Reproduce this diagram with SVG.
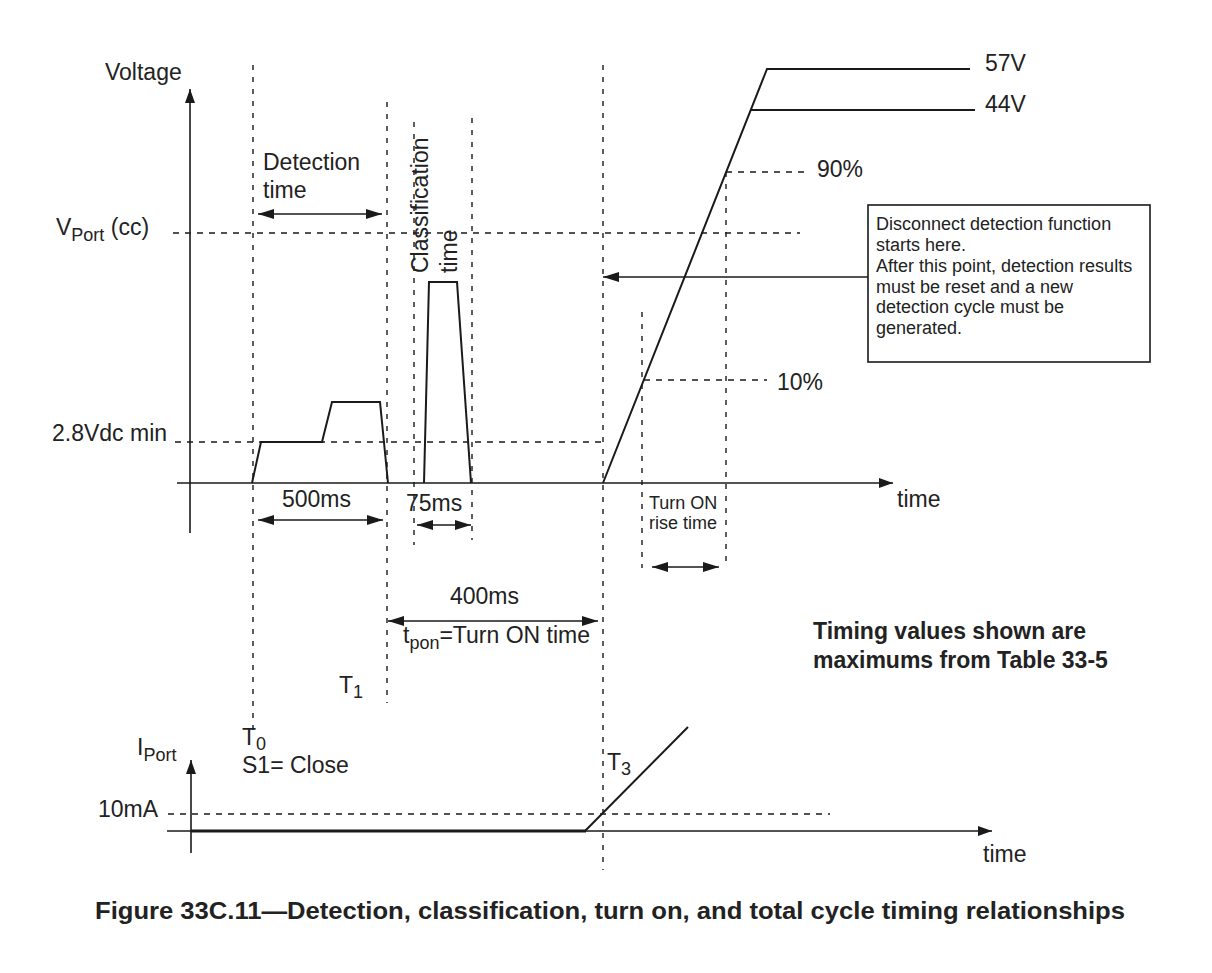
<svg xmlns="http://www.w3.org/2000/svg" width="1212" height="973" viewBox="0 0 1212 973">
<style>
text{font-family:"Liberation Sans",Arial,sans-serif;fill:#222;font-size:23px}
.sm{font-size:18px}
.sub{font-size:18px}
.b{font-weight:bold}
.ln{stroke:#1a1a1a;stroke-width:1.6;fill:none}
.wf{stroke:#1a1a1a;stroke-width:2;fill:none;stroke-linejoin:miter}
.dh{stroke:#1a1a1a;stroke-width:1.4;stroke-dasharray:6 6;fill:none}
.dv{stroke:#1a1a1a;stroke-width:1.4;stroke-dasharray:5 7;fill:none}
.dim{stroke:#1a1a1a;stroke-width:1.6;fill:none;marker-start:url(#ah);marker-end:url(#ah)}
</style>
<defs>
<marker id="ah" markerUnits="userSpaceOnUse" viewBox="0 0 16 10" refX="16" refY="5" markerWidth="16" markerHeight="10" orient="auto-start-reverse">
<path d="M0,0 L16,5 L0,10 z" fill="#1a1a1a"/>
</marker>
<marker id="ax" markerUnits="userSpaceOnUse" viewBox="0 0 14 10" refX="14" refY="5" markerWidth="14" markerHeight="10" orient="auto">
<path d="M0,0 L14,5 L0,10 z" fill="#1a1a1a"/>
</marker>
</defs>
<rect width="1212" height="973" fill="#fff"/>

<g id="connectors">
<!-- axes -->
<line class="ln" x1="190" y1="533" x2="190" y2="89" marker-end="url(#ax)"/>
<line class="ln" x1="177" y1="483" x2="893" y2="483" marker-end="url(#ax)"/>
<line class="ln" x1="191" y1="853" x2="191" y2="760" marker-end="url(#ax)"/>
<line class="ln" x1="167" y1="831" x2="992" y2="831" marker-end="url(#ax)"/>
<!-- horizontal dashed reference lines -->
<line class="dh" x1="173" y1="233" x2="800" y2="233"/>
<line class="dh" x1="175" y1="442" x2="603" y2="442"/>
<line class="dh" x1="726" y1="172" x2="807" y2="172"/>
<line class="dh" x1="644" y1="380" x2="767" y2="380"/>
<line class="dh" x1="168" y1="814" x2="830" y2="814"/>
<!-- vertical dashed time markers -->
<line class="dv" x1="253" y1="65" x2="253" y2="735"/>
<line class="dv" x1="387" y1="102" x2="387" y2="703"/>
<line class="dv" x1="414" y1="122" x2="414" y2="545"/>
<line class="dv" x1="472" y1="118" x2="472" y2="540"/>
<line class="dv" x1="603" y1="65" x2="603" y2="870"/>
<line class="dv" x1="642" y1="312" x2="642" y2="568"/>
<line class="dv" x1="726" y1="172" x2="726" y2="568"/>
<!-- waveforms -->
<polyline class="wf" points="252,483 261,442 322,442 332,402 380,402 388,483"/>
<polyline class="wf" points="424,483 429,282 457,282 471,483"/>
<polyline class="wf" points="603,483 767,69 970,69"/>
<line class="wf" x1="751" y1="110" x2="975" y2="110"/>
<line stroke="#1a1a1a" stroke-width="3" x1="191" y1="831" x2="586" y2="831"/>
<line class="wf" x1="585" y1="831" x2="688" y2="727"/>
<!-- dimension arrows -->
<line class="dim" x1="258" y1="214" x2="382" y2="214"/>
<line class="dim" x1="258" y1="520" x2="383" y2="520"/>
<line class="dim" x1="417" y1="525" x2="471" y2="525"/>
<line class="dim" x1="388" y1="621" x2="598" y2="621"/>
<line class="dim" x1="652" y1="567" x2="719" y2="567"/>
<line class="ln" x1="868" y1="277" x2="603" y2="277" marker-end="url(#ah)"/>
</g>

<g id="axis-labels">
<text x="105" y="80">Voltage</text>
<text x="897" y="507">time</text>
<text x="137" y="755">I<tspan class="sub" dy="6">Port</tspan></text>
<text x="983" y="862">time</text>
</g>

<g id="level-labels">
<text x="56" y="235">V<tspan class="sub" dy="6">Port</tspan><tspan dy="-6"> (cc)</tspan></text>
<text x="52" y="441">2.8Vdc min</text>
<text x="985" y="71">57V</text>
<text x="985" y="112">44V</text>
<text x="817" y="177">90%</text>
<text x="777" y="390">10%</text>
<text x="98" y="817">10mA</text>
</g>

<g id="detection">
<text x="263" y="170">Detection</text>
<text x="263" y="198">time</text>
<text x="282" y="507">500ms</text>
</g>

<g id="classification">
<text transform="translate(428,273) rotate(-90)">Classification</text>
<text transform="translate(457,273) rotate(-90)">time</text>
<text x="406" y="511">75ms</text>
</g>

<g id="turn-on">
<text x="450" y="604">400ms</text>
<text x="403" y="643">t<tspan class="sub" dy="6">pon</tspan><tspan dy="-6">=Turn ON time</tspan></text>
<text class="sm" x="649" y="509" fill="#333">Turn ON</text>
<text class="sm" x="649" y="529" fill="#333">rise time</text>
</g>

<g id="time-markers">
<text x="339" y="693">T<tspan class="sub" dy="5">1</tspan></text>
<text x="242" y="745">T<tspan class="sub" dy="5">0</tspan></text>
<text x="242" y="773">S1= Close</text>
<text x="607" y="770">T<tspan class="sub" dy="5">3</tspan></text>
</g>

<g id="note-box">
<rect x="868" y="205" width="282" height="157" fill="#fff" stroke="#1a1a1a" stroke-width="1.6"/>
<text class="sm" x="876" y="230">Disconnect detection function</text>
<text class="sm" x="876" y="251">starts here.</text>
<text class="sm" x="876" y="272">After this point, detection results</text>
<text class="sm" x="876" y="293">must be reset and a new</text>
<text class="sm" x="876" y="313">detection cycle must be</text>
<text class="sm" x="876" y="334">generated.</text>
</g>

<g id="timing-note">
<text class="b" x="813" y="639" font-size="22">Timing values shown are</text>
<text class="b" x="813" y="668" font-size="22">maximums from Table 33-5</text>
</g>

<g id="caption">
<text class="b" x="95" y="919" font-size="22" textLength="1030" lengthAdjust="spacingAndGlyphs">Figure 33C.11—Detection, classification, turn on, and total cycle timing relationships</text>
</g>
</svg>
